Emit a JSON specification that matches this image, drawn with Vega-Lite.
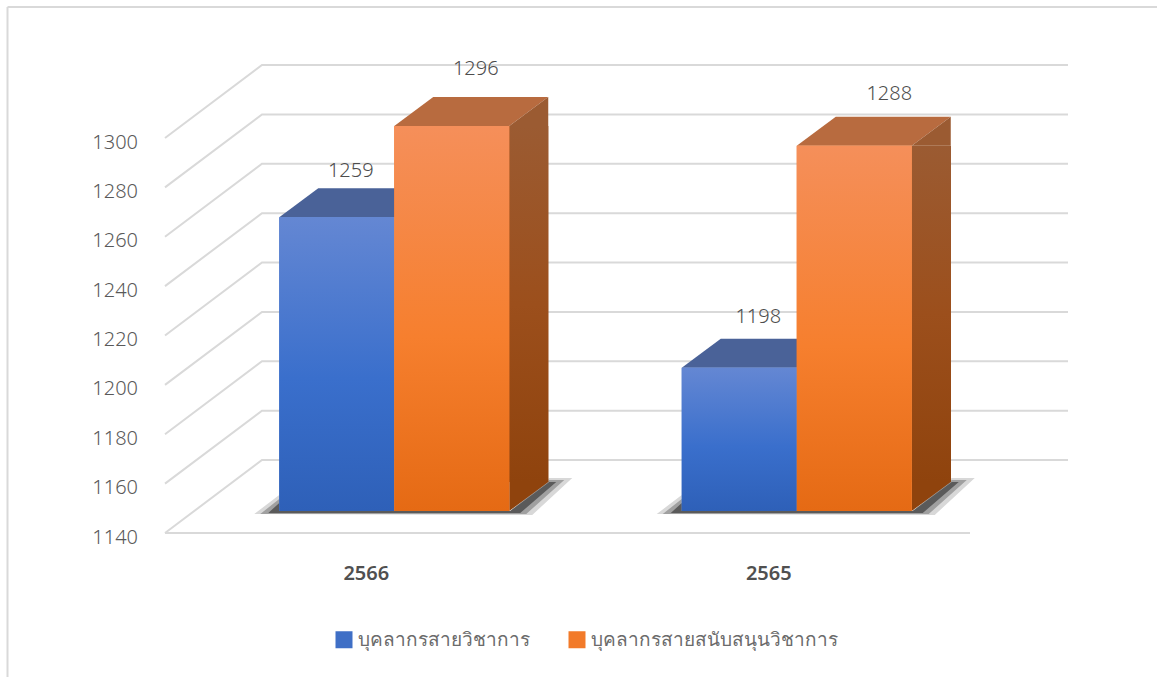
{
"$schema":"https://vega.github.io/schema/vega-lite/v6.json",
"width":1150,"height":670,
"autosize":{"type":"none"},
"padding":{"left":7.5,"top":7,"right":0,"bottom":0},
"background":"#ffffff",
"config":{"view":{"stroke":null},"font":"Noto Sans"},
"datasets":{
"bars":[
{"year":"2566","series":"บุคลากรสายวิชาการ","value":1259},
{"year":"2566","series":"บุคลากรสายสนับสนุนวิชาการ","value":1296},
{"year":"2565","series":"บุคลากรสายวิชาการ","value":1198},
{"year":"2565","series":"บุคลากรสายสนับสนุนวิชาการ","value":1288}],
"ticks":[{"tick":1140},{"tick":1160},{"tick":1180},{"tick":1200},{"tick":1220},{"tick":1240},{"tick":1260},{"tick":1280},{"tick":1300}]
},
"layer":[
{"data":{"name":"ticks"},"transform":[{"filter":"datum.tick===1140"}],"mark":{"type":"rule","stroke":"#d9d9d9","strokeWidth":2},"encoding":{"x":{"value":0},"x2":{"value":1150},"y":{"value":0}}},
{"data":{"name":"ticks"},"transform":[{"filter":"datum.tick===1140"}],"mark":{"type":"rule","stroke":"#d9d9d9","strokeWidth":2},"encoding":{"x":{"value":0},"y":{"value":0},"y2":{"value":670}}},
{"data":{"name":"ticks"},"mark":{"type":"point","shape":"M0,0L97,-73L903,-73","size":4,"filled":false,"opacity":1,"stroke":"#d9d9d9","strokeWidth":2},
"encoding":{"x":{"datum":"2566","bandPosition":0,"type":"nominal","title":null,"scale":{"domain":["2566","2565"],"range":[157.5,962.5],"paddingInner":0,"paddingOuter":0},
"axis":{"labelAngle":0,"labelAlign":"center","labelBaseline":"top","domain":false,"ticks":false,"grid":false,"offset":-114,"labelPadding":0,"labelFontSize":20,"labelFontWeight":600,"labelColor":"#505050","labelFont":"Noto Sans"}},
"y":{"field":"tick","type":"quantitative","title":null,"scale":{"domain":[1140,1300],"range":[526,131],"nice":false,"zero":false},
"axis":{"values":[1140,1160,1180,1200,1220,1240,1260,1280,1300],"format":"d","domain":false,"ticks":false,"grid":false,"offset":-130,"labelPadding":0,"labelOffset":4,"labelFontSize":20,"labelFontWeight":300,"labelColor":"#595959","labelFont":"Noto Sans"}}}},
{"data":{"name":"ticks"},"transform":[{"filter":"datum.tick===1140"}],"mark":{"type":"point","shape":"M0,0L805,0","size":4,"filled":false,"opacity":1,"stroke":"#d9d9d9","strokeWidth":2},
"encoding":{"x":{"datum":"2566","bandPosition":0,"type":"nominal","title":null},"y":{"field":"tick","type":"quantitative","title":null}}},
{"data":{"name":"bars"},"transform":[{"filter":"datum.series==='บุคลากรสายสนับสนุนวิชาการ'"}],"mark":{"type":"point","shape":"M-198,3L-173,-16L-173,0L58,0L97,-33L120,-33L80,4Z","size":4,"filled":true,"opacity":1,"fill":"#d8d8d8","stroke":null,"xOffset":86,"yOffset":-22},"encoding":{"x":{"field":"year","type":"nominal","title":null},"y":{"datum":1140,"type":"quantitative","title":null}}},
{"data":{"name":"bars"},"transform":[{"filter":"datum.series==='บุคลากรสายสนับสนุนวิชาการ'"}],"mark":{"type":"point","shape":"M-192,3L-173,-12L-173,0L58,0L97,-31L112,-31L74,3Z","size":4,"filled":true,"opacity":1,"fill":"#a0a0a0","stroke":null,"xOffset":86,"yOffset":-22},"encoding":{"x":{"field":"year","type":"nominal","title":null},"y":{"datum":1140,"type":"quantitative","title":null}}},
{"data":{"name":"bars"},"transform":[{"filter":"datum.series==='บุคลากรสายสนับสนุนวิชาการ'"}],"mark":{"type":"point","shape":"M-184,2L-173,-8L-173,0L58,0L97,-29L104,-29L68,2Z","size":4,"filled":true,"opacity":1,"fill":"#5a5a5a","stroke":null,"xOffset":86,"yOffset":-22},"encoding":{"x":{"field":"year","type":"nominal","title":null},"y":{"datum":1140,"type":"quantitative","title":null}}},
{"data":{"name":"bars"},"transform":[{"filter":"datum.series==='บุคลากรสายสนับสนุนวิชาการ'"}],"mark":{"type":"bar","width":39.5,"xOffset":162.5,"yOffset":-22,"y2Offset":-51,"fill":{"x1":0,"y1":0,"x2":0,"y2":1,"gradient":"linear","stops":[{"offset":0,"color":"#9b5b32"},{"offset":0.5,"color":"#9c4f1c"},{"offset":1,"color":"#8f430d"}]}},"encoding":{"x":{"field":"year","type":"nominal","title":null},"y":{"field":"value","type":"quantitative","title":null,"stack":null},"y2":{"datum":1140}}},
{"data":{"name":"bars"},
"encoding":{
"x":{"field":"year","type":"nominal","title":null},
"xOffset":{"field":"series","type":"nominal","sort":null,"scale":{"domain":["บุคลากรสายวิชาการ","บุคลากรสายสนับสนุนวิชาการ"],"range":[114.25,344.25],"paddingInner":0,"paddingOuter":0}},
"y":{"field":"value","type":"quantitative","title":null,"stack":null}
},
"layer":[
{"transform":[{"filter":"datum.series==='บุคลากรสายวิชาการ'"}],"mark":{"type":"point","shape":"M-57.5,0L-18.5,-29L96.5,-29L57.5,0Z","size":4,"filled":true,"opacity":1,"fill":"#4a6298","stroke":null,"yOffset":-22}},
{"transform":[{"filter":"datum.series==='บุคลากรสายสนับสนุนวิชาการ'"}],"mark":{"type":"point","shape":"M-57.5,0L-18.5,-29L96.5,-29L57.5,0Z","size":4,"filled":true,"opacity":1,"fill":"#b86b3f","stroke":null,"yOffset":-22}},
{"transform":[{"filter":"datum.series==='บุคลากรสายสนับสนุนวิชาการ'"}],"mark":{"type":"point","shape":"M57.5,0L96.5,-29L96.5,0Z","size":4,"filled":true,"opacity":1,"fill":"#9b5b32","stroke":null,"yOffset":-22}},
{"transform":[{"filter":"datum.series==='บุคลากรสายสนับสนุนวิชาการ'"}],"mark":{"type":"point","shape":"M57.5,0L96.5,-29L57.5,-29Z","size":4,"filled":true,"opacity":1,"fill":"#8f430d","stroke":null,"yOffset":-22},"encoding":{"y":{"datum":1140,"type":"quantitative","title":null}}},
{"mark":{"type":"bar","yOffset":-22,"y2Offset":-22},"encoding":{"y2":{"datum":1140},
"color":{"field":"series","type":"nominal","sort":null,"title":null,"scale":{"domain":["บุคลากรสายวิชาการ","บุคลากรสายสนับสนุนวิชาการ"],"range":["#3f6fc6","#f27a29"]},
"legend":{"orient":"none","legendX":327,"legendY":623,"direction":"horizontal","columns":2,"symbolType":"square","symbolSize":289,"symbolStrokeWidth":0,"labelFontSize":19,"labelColor":"#6b6b6b","labelFont":"Noto Sans","columnPadding":38,"labelLimit":400,"title":null}}}},
{"transform":[{"filter":"datum.series==='บุคลากรสายวิชาการ'"}],"mark":{"type":"bar","yOffset":-22,"y2Offset":-22,"fill":{"x1":0,"y1":0,"x2":0,"y2":1,"gradient":"linear","stops":[{"offset":0,"color":"#6487d3"},{"offset":0.55,"color":"#3a6fcc"},{"offset":1,"color":"#2e60b8"}]}},"encoding":{"y2":{"datum":1140}}},
{"transform":[{"filter":"datum.series==='บุคลากรสายสนับสนุนวิชาการ'"}],"mark":{"type":"bar","yOffset":-22,"y2Offset":-22,"fill":{"x1":0,"y1":0,"x2":0,"y2":1,"gradient":"linear","stops":[{"offset":0,"color":"#f58f5a"},{"offset":0.55,"color":"#f67f2e"},{"offset":1,"color":"#e56a14"}]}},"encoding":{"y2":{"datum":1140}}},
{"transform":[{"filter":"datum.year==='2566'&&datum.value===1259"}],"mark":{"type":"text","dx":14,"dy":-68,"fontSize":20,"fontWeight":300,"color":"#4d4d4d"},"encoding":{"text":{"field":"value","type":"quantitative"}}},
{"transform":[{"filter":"datum.year==='2566'&&datum.value===1296"}],"mark":{"type":"text","dx":24,"dy":-79,"fontSize":20,"fontWeight":300,"color":"#4d4d4d"},"encoding":{"text":{"field":"value","type":"quantitative"}}},
{"transform":[{"filter":"datum.year==='2565'&&datum.value===1198"}],"mark":{"type":"text","dx":19,"dy":-73,"fontSize":20,"fontWeight":300,"color":"#4d4d4d"},"encoding":{"text":{"field":"value","type":"quantitative"}}},
{"transform":[{"filter":"datum.year==='2565'&&datum.value===1288"}],"mark":{"type":"text","dx":35,"dy":-74,"fontSize":20,"fontWeight":300,"color":"#4d4d4d"},"encoding":{"text":{"field":"value","type":"quantitative"}}}
]}
]
}
